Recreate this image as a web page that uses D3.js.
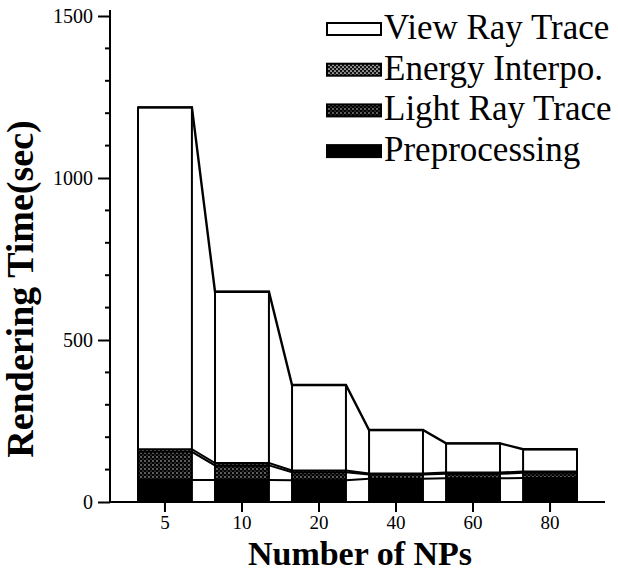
<!DOCTYPE html>
<html>
<head>
<meta charset="utf-8">
<script src="https://cdn.jsdelivr.net/npm/d3@7"></script>
<style>
  html, body { margin: 0; padding: 0; background: #fff; }
  svg { display: block; }
</style>
</head>
<body>
<svg id="chart" width="618" height="576"></svg>
<script>
const categories = ["5", "10", "20", "40", "60", "80"];
const preprocessing = [68, 68, 67, 72, 73, 74];
const lightRayTrace = [87, 45, 25, 13, 14, 16];
const energyInterpo = [8, 7, 5, 3, 4, 4];
const viewRayTrace = [1055, 529, 264, 134, 90, 69];
const yTicks = [0, 500, 1000, 1500];
const seriesNames = ["Preprocessing", "Light Ray Trace", "Energy Interpo.", "View Ray Trace"];
const legendOrder = ["View Ray Trace", "Energy Interpo.", "Light Ray Trace", "Preprocessing"];

const svg = d3.select("#chart");
const serif = "'Liberation Serif', 'Times New Roman', serif";

// patterns
const defs = svg.append("defs");
const pE = defs.append("pattern").attr("id", "pEnergy").attr("patternUnits", "userSpaceOnUse")
  .attr("width", 4).attr("height", 4);
pE.append("rect").attr("width", 4).attr("height", 4).attr("fill", "#111");
pE.append("circle").attr("cx", 1).attr("cy", 1).attr("r", 0.85).attr("fill", "#fff");
pE.append("circle").attr("cx", 3).attr("cy", 3).attr("r", 0.85).attr("fill", "#fff");
const pL = defs.append("pattern").attr("id", "pLight").attr("patternUnits", "userSpaceOnUse")
  .attr("width", 4).attr("height", 4);
pL.append("rect").attr("width", 4).attr("height", 4).attr("fill", "#000");
pL.append("circle").attr("cx", 1).attr("cy", 1).attr("r", 0.7).attr("fill", "#fff");
pL.append("circle").attr("cx", 3).attr("cy", 3).attr("r", 0.5).attr("fill", "#ccc");

const fills = {
  "Preprocessing": "#000",
  "Light Ray Trace": "url(#pLight)",
  "Energy Interpo.": "url(#pEnergy)",
  "View Ray Trace": "#fff"
};

const rows = categories.map((c, i) => ({
  cat: c,
  "Preprocessing": preprocessing[i],
  "Light Ray Trace": lightRayTrace[i],
  "Energy Interpo.": energyInterpo[i],
  "View Ray Trace": viewRayTrace[i]
}));

const stacked = d3.stack().keys(seriesNames)(rows);

const x = d3.scaleBand().domain(categories).range([138, 577]).paddingInner(0.3).paddingOuter(0);
const y = d3.scaleLinear().domain([0, 1500]).range([502, 16]);

const axisX = 110;

// bars
const g = svg.append("g");
stacked.forEach(layer => {
  g.selectAll(null).data(layer).enter().append("rect")
    .attr("x", d => x(d.data.cat))
    .attr("width", x.bandwidth())
    .attr("y", d => y(d[1]))
    .attr("height", d => y(d[0]) - y(d[1]))
    .attr("fill", fills[layer.key])
    .attr("stroke", "none");
});

// boundary lines (tops of each layer, connecting across gaps)
stacked.forEach((layer, li) => {
  const pts = [];
  layer.forEach(d => {
    pts.push([x(d.data.cat), y(d[1])]);
    pts.push([x(d.data.cat) + x.bandwidth(), y(d[1])]);
  });
  g.append("path")
    .attr("d", d3.line()(pts))
    .attr("fill", "none")
    .attr("stroke", "#000")
    .attr("stroke-width", li === 3 ? 2.4 : 2)
    .attr("stroke-linejoin", "miter");
});

// bar outlines (vertical edges)
const topLayer = stacked[stacked.length - 1];
g.selectAll(null).data(topLayer).enter().append("rect")
  .attr("x", d => x(d.data.cat))
  .attr("width", x.bandwidth())
  .attr("y", d => y(d[1]))
  .attr("height", d => y(0) - y(d[1]))
  .attr("fill", "none")
  .attr("stroke", "#000")
  .attr("stroke-width", 2);

// y axis
const yAxis = d3.axisLeft(y).tickValues(yTicks).tickSize(12).tickPadding(5).tickFormat(d3.format("d"));
const ya = svg.append("g").attr("transform", `translate(${axisX},0)`).call(yAxis);
ya.select(".domain").remove();
ya.selectAll(".tick line").attr("stroke", "#000").attr("stroke-width", 2);
ya.selectAll(".tick text").attr("font-family", serif).attr("font-size", 20).attr("fill", "#000");
svg.append("line").attr("x1", axisX).attr("x2", axisX).attr("y1", 10).attr("y2", y(0))
  .attr("stroke", "#000").attr("stroke-width", 2);
// minor ticks
const minor = d3.range(100, 1500, 100).filter(v => v % 500 !== 0);
svg.append("g").selectAll("line").data(minor).enter().append("line")
  .attr("x1", axisX - 5).attr("x2", axisX)
  .attr("y1", d => y(d)).attr("y2", d => y(d))
  .attr("stroke", "#000").attr("stroke-width", 2);

// x axis
const xAxis = d3.axisBottom(x).tickSize(10).tickPadding(4);
const xa = svg.append("g").attr("transform", `translate(0,${y(0)})`).call(xAxis);
xa.select(".domain").remove();
xa.selectAll(".tick line").attr("stroke", "#000").attr("stroke-width", 2);
xa.selectAll(".tick text").attr("font-family", serif).attr("font-size", 19).attr("fill", "#000");
svg.append("line").attr("x1", axisX - 1).attr("x2", 605).attr("y1", y(0)).attr("y2", y(0))
  .attr("stroke", "#000").attr("stroke-width", 2);

// axis titles
svg.append("text")
  .attr("transform", `translate(33,289) rotate(-90)`)
  .attr("text-anchor", "middle")
  .attr("font-family", serif).attr("font-weight", "bold").attr("font-size", 38)
  .text("Rendering Time(sec)");
svg.append("text")
  .attr("x", 360).attr("y", 565)
  .attr("text-anchor", "middle")
  .attr("font-family", serif).attr("font-weight", "bold").attr("font-size", 34)
  .text("Number of NPs");

// legend
const lg = svg.append("g");
legendOrder.forEach((name, i) => {
  const cy = 29 + i * 40.7;
  lg.append("rect").attr("x", 327).attr("y", cy - 6).attr("width", 54).attr("height", 12)
    .attr("fill", fills[name]).attr("stroke", "#000").attr("stroke-width", 2);
  lg.append("text").attr("x", 384).attr("y", cy + 10)
    .attr("font-family", serif).attr("font-size", 35).attr("fill", "#000")
    .text(name);
});
</script>
</body>
</html>
